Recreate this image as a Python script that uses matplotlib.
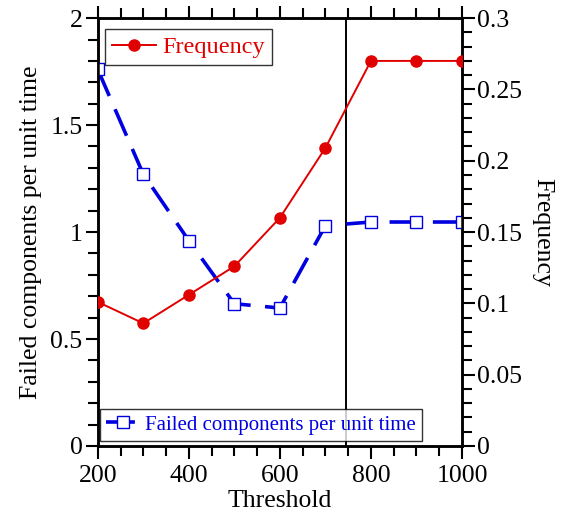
import matplotlib
matplotlib.use("Agg")
import matplotlib.pyplot as plt
from matplotlib.ticker import MultipleLocator, FuncFormatter

plt.rcParams['font.family'] = ['Liberation Serif', 'DejaVu Serif']

threshold = [200, 300, 400, 500, 600, 700, 800, 900, 1000]
failed = [1.76, 1.27, 0.96, 0.665, 0.645, 1.03, 1.047, 1.047, 1.047]
frequency = [0.101, 0.086, 0.106, 0.126, 0.160, 0.209, 0.270, 0.270, 0.270]
cut_threshold = 745

fig = plt.figure(figsize=(5.62, 5.18), dpi=100)
ax = fig.add_axes([0.174, 0.139, 0.648, 0.826])
ax2 = ax.twinx()

# failed components, left axis
l1, = ax.plot(threshold, failed, color='#0000e0', lw=2.6, dashes=(8, 4),
              marker='s', ms=8, mfc='white', mec='#0000e0', mew=1.0,
              label='Failed components per unit time', zorder=3)
# frequency, right axis
l2, = ax2.plot(threshold, frequency, color='#e00000', lw=1.4,
               marker='o', ms=8, mfc='#e00000', mec='#e00000',
               label='Frequency', zorder=3)
ax.axvline(cut_threshold, color='black', lw=1.4, zorder=1)

ax.set_xlim(200, 1000)
ax.set_ylim(0, 2)
ax2.set_ylim(0, 0.3)

fmt = FuncFormatter(lambda v, p: '{:g}'.format(round(v, 3)))
ax.xaxis.set_major_locator(MultipleLocator(200))
ax.xaxis.set_minor_locator(MultipleLocator(50))
ax.yaxis.set_major_locator(MultipleLocator(0.5))
ax.yaxis.set_minor_locator(MultipleLocator(0.1))
ax.yaxis.set_major_formatter(fmt)
ax2.yaxis.set_major_locator(MultipleLocator(0.05))
ax2.yaxis.set_minor_locator(MultipleLocator(0.01))
ax2.yaxis.set_major_formatter(fmt)

for a in (ax, ax2):
    for s in a.spines.values():
        s.set_linewidth(1.8)
    a.tick_params(which='both', direction='out', width=1.5, labelsize=18.5)
    a.tick_params(which='major', length=9, pad=2)
    a.tick_params(which='minor', length=7)
ax.tick_params(axis='x', which='both', top=True)
ax.tick_params(axis='x', which='major', pad=5)
ax2.tick_params(axis='y', which='both', left=False, right=True)
ax.tick_params(axis='y', which='both', right=False)

ax.set_xlabel('Threshold', fontsize=18.5, labelpad=2)
ax.set_ylabel('Failed components per unit time', fontsize=18.5, labelpad=6)
ax2.set_ylabel('Frequency', fontsize=18.5, rotation=270, labelpad=22)

leg2 = ax2.legend(handles=[l2], loc='upper left', fontsize=17.5, frameon=True,
                  fancybox=False, edgecolor='black', handlelength=1.8,
                  handletextpad=0.25, borderpad=0.3,
                  bbox_to_anchor=(0.02, 0.975), borderaxespad=0)
leg2.get_frame().set_linewidth(1.0)
for t in leg2.get_texts():
    t.set_color('#e00000')
leg1 = ax2.legend(handles=[l1], loc='lower left', fontsize=15, frameon=True,
                  fancybox=False, edgecolor='black', handlelength=1.6,
                  handletextpad=0.3, borderpad=0.3,
                  bbox_to_anchor=(0.005, 0.012), borderaxespad=0)
leg1.get_frame().set_linewidth(1.0)
for t in leg1.get_texts():
    t.set_color('#0000e0')
ax2.add_artist(leg2)

fig.savefig('out.png', dpi=100)
